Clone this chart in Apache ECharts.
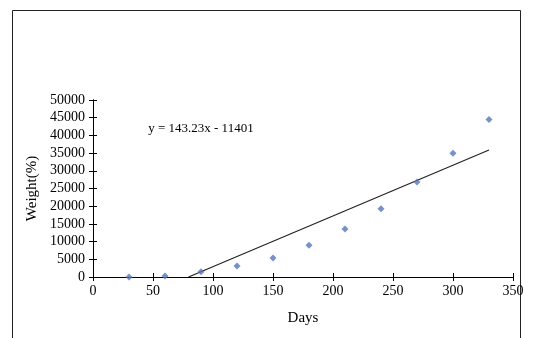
<!DOCTYPE html>
<html>
<head>
<meta charset="utf-8">
<script src="https://cdn.jsdelivr.net/npm/echarts@6/dist/echarts.min.js"></script>
<style>
  html, body { margin: 0; padding: 0; background: #fff; }
  #chart { width: 538px; height: 338px; }
</style>
</head>
<body>
<div id="chart"></div>
<script>
// measured points (days, weight)
const days = [30, 60, 90, 120, 150, 180, 210, 240, 270, 300, 330]
const weight = [0, 300, 1500, 3100, 5400, 8950, 13550, 19300, 26850, 34950, 44500]
// linear trend line ends, y = 143.23x - 11401
const trendX = [79.6, 330]
const trendY = [0, 35865]
const equationText = "y = 143.23x - 11401"

const chart = echarts.init(document.getElementById("chart"))
const font = "'Liberation Serif', 'DejaVu Serif', serif"

const axisBase = {
  type: "value",
  axisLine: { show: true, lineStyle: { color: "#000", width: 1 } },
  splitLine: { show: false },
}

chart.setOption({
  animation: false,
  backgroundColor: "#fff",
  grid: { left: 93, top: 100, right: 25, bottom: 61 },
  graphic: [
    {
      type: "rect",
      shape: { x: 12.5, y: 10.5, width: 508, height: 340 },
      style: { fill: "none", stroke: "#222", lineWidth: 1 },
      silent: true,
    },
  ],
  xAxis: [
    {
      ...axisBase,
      min: 0,
      max: 350,
      interval: 50,
      position: "bottom",
      name: "Days",
      nameLocation: "middle",
      nameGap: 34,
      nameTextStyle: { color: "#000", fontFamily: font, fontSize: 15 },
      axisTick: { show: true, length: 4, lineStyle: { color: "#000" } },
      axisLabel: { color: "#000", fontFamily: font, fontSize: 14, margin: 7 },
    },
    {
      ...axisBase,
      min: 0,
      max: 350,
      interval: 50,
      position: "bottom",
      axisTick: { show: true, inside: true, length: 4, lineStyle: { color: "#000" } },
      axisLabel: { show: false },
    },
  ],
  yAxis: [
    {
      ...axisBase,
      min: 0,
      max: 50000,
      interval: 5000,
      position: "left",
      name: "Weight(%)",
      nameLocation: "middle",
      nameGap: 51,
      nameTextStyle: { color: "#000", fontFamily: font, fontSize: 15 },
      axisTick: { show: true, length: 4, lineStyle: { color: "#000" } },
      axisLabel: {
        color: "#000",
        fontFamily: font,
        fontSize: 14,
        margin: 8,
        formatter: (v) => String(v),
      },
    },
    {
      ...axisBase,
      min: 0,
      max: 50000,
      interval: 5000,
      position: "left",
      axisTick: { show: true, inside: true, length: 4, lineStyle: { color: "#000" } },
      axisLabel: { show: false },
    },
  ],
  series: [
    {
      type: "scatter",
      data: days.map((d, i) => [d, weight[i]]),
      symbol: "diamond",
      symbolSize: 7,
      itemStyle: { color: "#5577b8" },
      z: 3,
    },
    {
      type: "line",
      data: trendX.map((d, i) => [d, trendY[i]]),
      symbol: "none",
      lineStyle: { color: "#222", width: 1.2 },
      markPoint: {
        symbol: "rect",
        symbolSize: 0,
        label: {
          show: true,
          formatter: equationText,
          color: "#000",
          fontFamily: font,
          fontSize: 13,
          align: "left",
        },
        data: [{ coord: [46, 42000] }],
      },
      z: 2,
    },
  ],
})
</script>
</body>
</html>
